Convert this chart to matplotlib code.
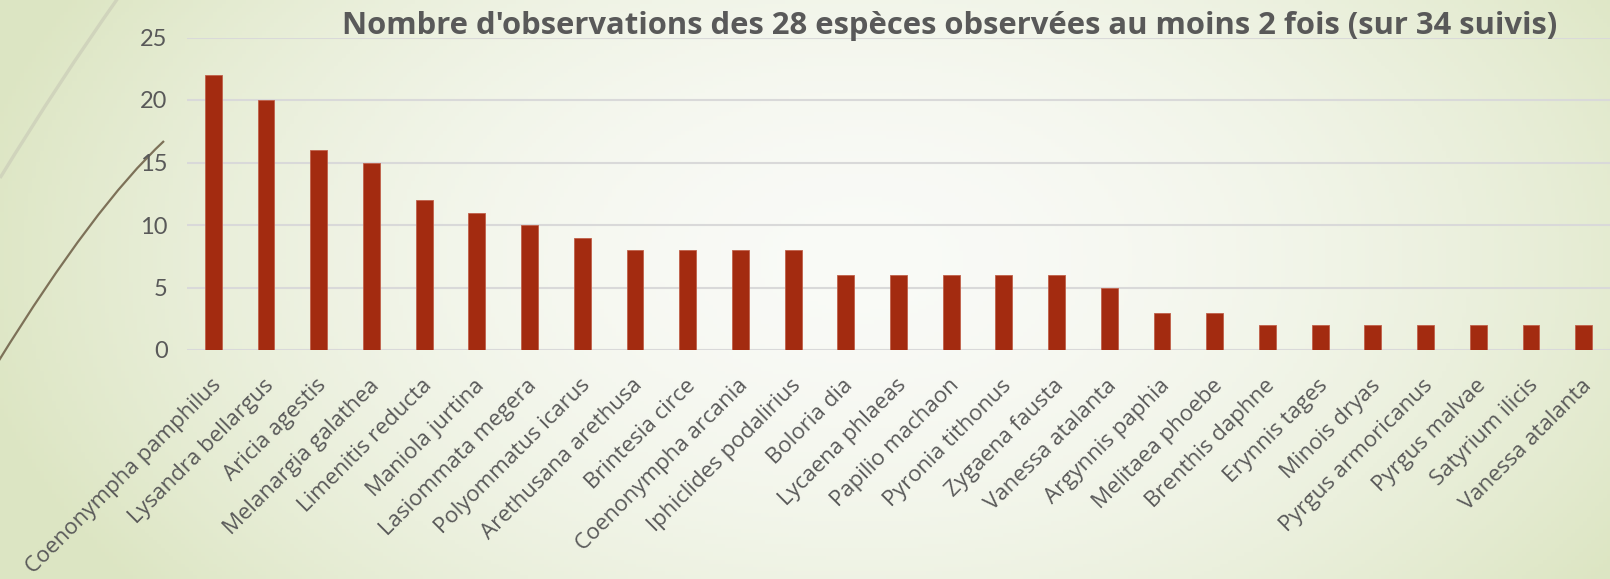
import numpy as np
import matplotlib.pyplot as plt
from matplotlib.path import Path
from matplotlib.patches import PathPatch
import matplotlib.transforms as mtransforms

# data
species = ["Coenonympha pamphilus", "Lysandra bellargus", "Aricia agestis",
           "Melanargia galathea", "Limenitis reducta", "Maniola jurtina",
           "Lasiommata megera", "Polyommatus icarus", "Arethusana arethusa",
           "Brintesia circe", "Coenonympha arcania", "Iphiclides podalirius",
           "Boloria dia", "Lycaena phlaeas", "Papilio machaon",
           "Pyronia tithonus", "Zygaena fausta", "Vanessa atalanta",
           "Argynnis paphia", "Melitaea phoebe", "Brenthis daphne",
           "Erynnis tages", "Minois dryas", "Pyrgus armoricanus",
           "Pyrgus malvae", "Satyrium ilicis", "Vanessa atalanta"]
observations = [22, 20, 16, 15, 12, 11, 10, 9, 8, 8, 8, 8, 6, 6, 6, 6, 6, 5,
                3, 3, 2, 2, 2, 2, 2, 2, 2]
title = "Nombre d'observations des 28 espèces observées au moins 2 fois (sur 34 suivis)"

W, H = 1610, 579
fig = plt.figure(figsize=(W / 100, H / 100), dpi=100)

# background: pale green at the edges, almost white in the middle
bg = fig.add_axes([0, 0, 1, 1], zorder=0)
bg.set_xlim(0, W)
bg.set_ylim(H, 0)
bg.axis("off")
xx, yy = np.meshgrid(np.linspace(0, W, 400), np.linspace(0, H, 150))
r = np.sqrt(((xx - 860) / 900) ** 2 + ((yy - 260) / 560) ** 2)
t = np.clip(r, 0, 1) ** 1.8
white = np.array([0.978, 0.982, 0.968])
green = np.array([0.865, 0.9, 0.765])
img = white[None, None, :] * (1 - t[..., None]) + green[None, None, :] * t[..., None]
bg.imshow(img, extent=(0, W, H, 0), aspect="auto")

# decorative curves on the left
light = Path([(118, -2), (60, 80), (0, 178)], [Path.MOVETO, Path.CURVE3, Path.CURVE3])
bg.add_patch(PathPatch(light, fill=False, ec="#d0d4bc", lw=2.4))
dark = Path([(164, 141), (95, 205), (-2, 362)], [Path.MOVETO, Path.CURVE3, Path.CURVE3])
bg.add_patch(PathPatch(dark, fill=False, ec="#7d7158", lw=1.6))

# chart
ax = fig.add_axes([187 / W, 1 - 350 / H, 1 - 187 / W, 312.5 / H], zorder=1)
ax.patch.set_alpha(0)
x = np.arange(len(species))
ax.bar(x, observations, width=0.32, color="#a32b10", edgecolor="#c0604a",
       linewidth=0.6, zorder=3)
ax.set_xlim(-0.5, len(species) - 0.5)
ax.set_ylim(0, 25)
ax.set_yticks([0, 5, 10, 15, 20, 25])
ax.grid(axis="y", color="#d9d9d9", lw=1.5, zorder=0)
for s in ax.spines.values():
    s.set_visible(False)
ax.tick_params(axis="both", length=0)
ax.tick_params(axis="y", pad=14, labelsize=17, labelcolor="#595959")
for lab in ax.get_yticklabels():
    lab.set_fontfamily("Lato")

ax.set_xticks(x)
ax.set_xticklabels(species, fontsize=16, color="#595959", family="Open Sans")
ax.tick_params(axis="x", pad=18)
offset = mtransforms.ScaledTranslation(-3 / 100, 0, fig.dpi_scale_trans)
for lab in ax.get_xticklabels():
    lab.set_rotation(45)
    lab.set_ha("right")
    lab.set_rotation_mode("anchor")
    lab.set_transform(lab.get_transform() + offset)

fig.text(950 / W, 1 - 26 / H, title, ha="center", va="center",
         fontsize=22.3, fontweight="bold", color="#595959", family="Open Sans")

fig.savefig("out.png", dpi=100)
